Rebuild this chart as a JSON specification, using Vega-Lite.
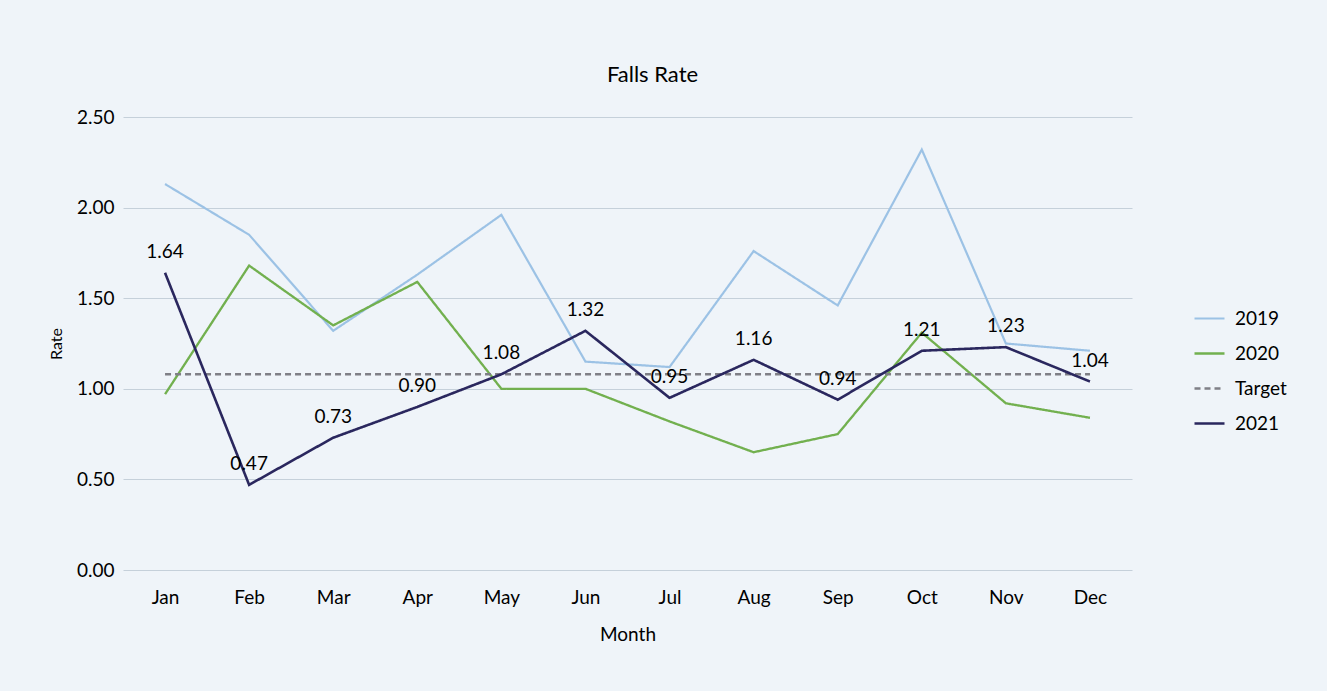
{
  "$schema": "https://vega.github.io/schema/vega-lite/v6.json",
  "width": 1009,
  "height": 453,
  "autosize": {"type": "none"},
  "padding": {"left": 123, "top": 117, "right": 195, "bottom": 121},
  "background": "#eff4f9",
  "config": {
    "font": "Lato",
    "view": {"stroke": null},
    "axis": {"labelFont": "Lato", "titleFont": "Lato", "labelColor": "#000", "titleColor": "#000"},
    "legend": {"labelFont": "Lato"}
  },
  "title": {"text": "Falls Rate", "fontSize": 22, "fontWeight": "normal", "color": "#000", "anchor": "middle", "offset": 21, "dx": 25, "font": "Lato"},
  "data": {
    "values": [
      {"month": "Jan", "series": "2019", "value": 2.13},
      {"month": "Feb", "series": "2019", "value": 1.85},
      {"month": "Mar", "series": "2019", "value": 1.32},
      {"month": "Apr", "series": "2019", "value": 1.63},
      {"month": "May", "series": "2019", "value": 1.96},
      {"month": "Jun", "series": "2019", "value": 1.15},
      {"month": "Jul", "series": "2019", "value": 1.12},
      {"month": "Aug", "series": "2019", "value": 1.76},
      {"month": "Sep", "series": "2019", "value": 1.46},
      {"month": "Oct", "series": "2019", "value": 2.32},
      {"month": "Nov", "series": "2019", "value": 1.25},
      {"month": "Dec", "series": "2019", "value": 1.21},
      {"month": "Jan", "series": "2020", "value": 0.97},
      {"month": "Feb", "series": "2020", "value": 1.68},
      {"month": "Mar", "series": "2020", "value": 1.35},
      {"month": "Apr", "series": "2020", "value": 1.59},
      {"month": "May", "series": "2020", "value": 1.0},
      {"month": "Jun", "series": "2020", "value": 1.0},
      {"month": "Jul", "series": "2020", "value": 0.82},
      {"month": "Aug", "series": "2020", "value": 0.65},
      {"month": "Sep", "series": "2020", "value": 0.75},
      {"month": "Oct", "series": "2020", "value": 1.31},
      {"month": "Nov", "series": "2020", "value": 0.92},
      {"month": "Dec", "series": "2020", "value": 0.84},
      {"month": "Jan", "series": "Target", "value": 1.08},
      {"month": "Feb", "series": "Target", "value": 1.08},
      {"month": "Mar", "series": "Target", "value": 1.08},
      {"month": "Apr", "series": "Target", "value": 1.08},
      {"month": "May", "series": "Target", "value": 1.08},
      {"month": "Jun", "series": "Target", "value": 1.08},
      {"month": "Jul", "series": "Target", "value": 1.08},
      {"month": "Aug", "series": "Target", "value": 1.08},
      {"month": "Sep", "series": "Target", "value": 1.08},
      {"month": "Oct", "series": "Target", "value": 1.08},
      {"month": "Nov", "series": "Target", "value": 1.08},
      {"month": "Dec", "series": "Target", "value": 1.08},
      {"month": "Jan", "series": "2021", "value": 1.64},
      {"month": "Feb", "series": "2021", "value": 0.47},
      {"month": "Mar", "series": "2021", "value": 0.73},
      {"month": "Apr", "series": "2021", "value": 0.9},
      {"month": "May", "series": "2021", "value": 1.08},
      {"month": "Jun", "series": "2021", "value": 1.32},
      {"month": "Jul", "series": "2021", "value": 0.95},
      {"month": "Aug", "series": "2021", "value": 1.16},
      {"month": "Sep", "series": "2021", "value": 0.94},
      {"month": "Oct", "series": "2021", "value": 1.21},
      {"month": "Nov", "series": "2021", "value": 1.23},
      {"month": "Dec", "series": "2021", "value": 1.04}
    ]
  },
  "encoding": {
    "x": {
      "field": "month", "type": "nominal",
      "sort": ["Jan","Feb","Mar","Apr","May","Jun","Jul","Aug","Sep","Oct","Nov","Dec"],
      "scale": {"type": "point", "padding": 0.5},
      "axis": {"title": "Month", "labelAngle": 0, "labelFontSize": 19, "titleFontSize": 19, "titleFontWeight": "normal", "domain": false, "ticks": false, "grid": false, "labelPadding": 18, "titlePadding": 18}
    },
    "y": {
      "field": "value", "type": "quantitative",
      "scale": {"domain": [0, 2.5], "nice": false},
      "axis": {"title": "Rate", "values": [0, 0.5, 1, 1.5, 2, 2.5], "format": ".2f", "labelFontSize": 19, "titleFontSize": 16, "titleFontWeight": "normal", "domain": false, "ticks": false, "grid": true, "gridColor": "#c5d0da", "gridWidth": 1, "labelPadding": 9, "titlePadding": 12}
    }
  },
  "layer": [
    {
      "mark": {"type": "line"},
      "encoding": {
        "color": {
          "field": "series", "type": "nominal",
          "scale": {"domain": ["2019", "2020", "Target", "2021"], "range": ["#9cc2e5", "#72b04f", "#7f7f86", "#2a275e"]},
          "legend": {"title": null, "orient": "none", "legendX": 1070, "legendY": 185, "labelFontSize": 19, "labelColor": "#000", "symbolType": "stroke", "symbolSize": 900, "symbolStrokeWidth": 2.5, "rowPadding": 8, "labelOffset": 9}
        },
        "strokeDash": {
          "field": "series", "type": "nominal",
          "scale": {"domain": ["2019", "2020", "Target", "2021"], "range": [[1, 0], [1, 0], [6, 4], [1, 0]]},
          "legend": {"title": null, "orient": "none", "legendX": 1070, "legendY": 185, "labelFontSize": 19, "labelColor": "#000", "symbolType": "stroke", "symbolSize": 900, "symbolStrokeWidth": 2.5, "rowPadding": 8, "labelOffset": 9}
        },
        "strokeWidth": {
          "field": "series", "type": "nominal",
          "scale": {"domain": ["2019", "2020", "Target", "2021"], "range": [2.2, 2.6, 2.2, 3]},
          "legend": null
        }
      }
    },
    {
      "transform": [{"filter": "datum.series === '2021'"}],
      "mark": {"type": "text", "dy": -21, "fontSize": 19, "color": "#000", "font": "Lato"},
      "encoding": {
        "text": {"field": "value", "type": "quantitative", "format": ".2f"}
      }
    }
  ]
}
